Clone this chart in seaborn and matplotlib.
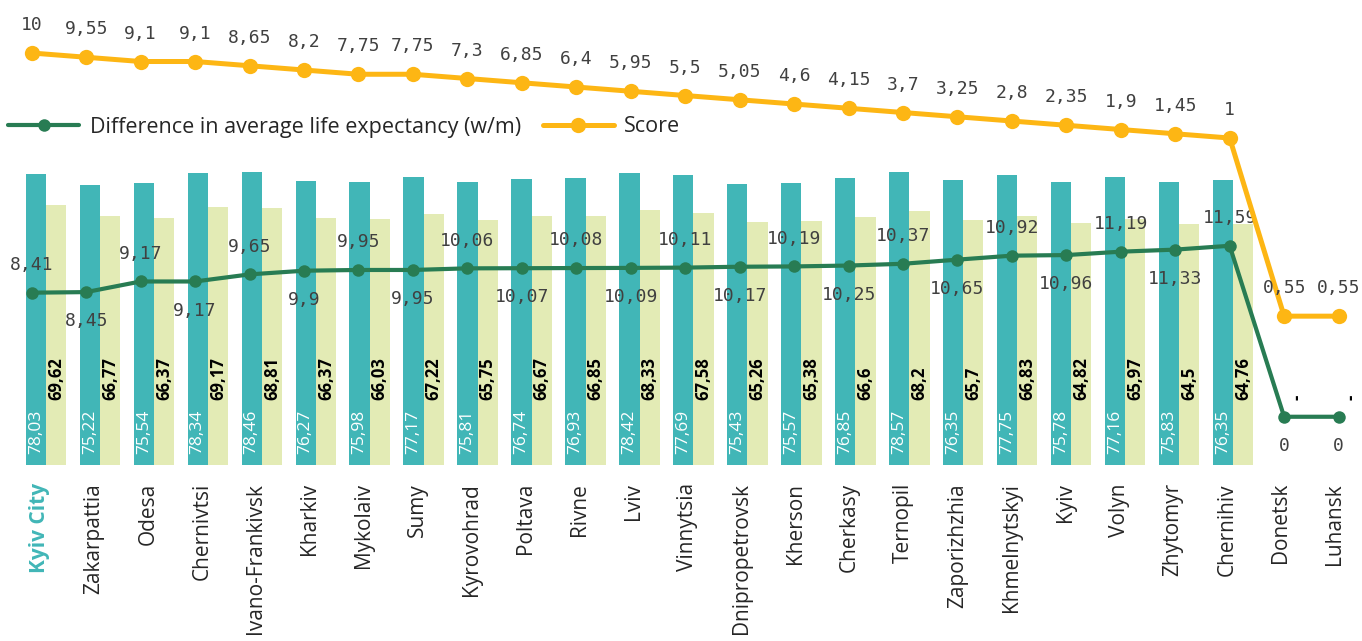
"""
Regional life expectancy (women / men), the gap between them and the score
- bars: average life expectancy by sex
- lines: difference (w/m) and score on their own scales
"""

import numpy as np
import pandas as pd
import matplotlib
matplotlib.use('Agg')
import matplotlib.pyplot as plt
import matplotlib.transforms as mtransforms
import seaborn as sns

sns.set_style('white')
plt.rcParams['font.family'] = ['Open Sans', 'DejaVu Sans']

# data
regions = ['Kyiv City', 'Zakarpattia', 'Odesa', 'Chernivtsi', 'Ivano-Frankivsk',
           'Kharkiv', 'Mykolaiv', 'Sumy', 'Kyrovohrad', 'Poltava', 'Rivne', 'Lviv',
           'Vinnytsia', 'Dnipropetrovsk', 'Kherson', 'Cherkasy', 'Ternopil',
           'Zaporizhzhia', 'Khmelnytskyi', 'Kyiv', 'Volyn', 'Zhytomyr',
           'Chernihiv', 'Donetsk', 'Luhansk']
women = [78.03, 75.22, 75.54, 78.34, 78.46, 76.27, 75.98, 77.17, 75.81, 76.74,
         76.93, 78.42, 77.69, 75.43, 75.57, 76.85, 78.57, 76.35, 77.75, 75.78,
         77.16, 75.83, 76.35, np.nan, np.nan]
men = [69.62, 66.77, 66.37, 69.17, 68.81, 66.37, 66.03, 67.22, 65.75, 66.67,
       66.85, 68.33, 67.58, 65.26, 65.38, 66.6, 68.2, 65.7, 66.83, 64.82,
       65.97, 64.5, 64.76, np.nan, np.nan]
diff = [8.41, 8.45, 9.17, 9.17, 9.65, 9.9, 9.95, 9.95, 10.06, 10.07, 10.08,
        10.09, 10.11, 10.17, 10.19, 10.25, 10.37, 10.65, 10.92, 10.96, 11.19,
        11.33, 11.59, 0, 0]
score = [10, 9.55, 9.1, 9.1, 8.65, 8.2, 7.75, 7.75, 7.3, 6.85, 6.4, 5.95, 5.5,
         5.05, 4.6, 4.15, 3.7, 3.25, 2.8, 2.35, 1.9, 1.45, 1, 0.55, 0.55]

TEAL = '#41B6B7'
PALE = '#E3EBB5'
GREEN = '#287C53'
ORANGE = '#FDB614'
GREY = '#404040'
MONO = 'DejaVu Sans Mono'

# the source chart's score axis is stretched below 1 (0,55 sits far lower)
STRETCH = 41.9


def score_fwd(v):
    v = np.asarray(v, dtype=float)
    return np.where(v >= 1, v, 1 - (1 - v) * STRETCH)


def score_inv(t):
    t = np.asarray(t, dtype=float)
    return np.where(t >= 1, t, 1 - (1 - t) / STRETCH)


def fmt(v):
    """1.5 -> '1,5', nan -> '-'"""
    if np.isnan(v):
        return '-'
    return f'{v:g}'.replace('.', ',')


n = len(regions)
bars = pd.DataFrame({'region': regions * 2,
                     'sex': ['women'] * n + ['men'] * n,
                     'value': women + men})
lines = pd.DataFrame({'pos': np.arange(n), 'diff': diff, 'score': score})

fig = plt.figure(figsize=(13.62, 6.41), dpi=100)
rect = [0, 176 / 641, 1, 465 / 641]

# bars
ax = fig.add_axes(rect)
bw = 0.75
sns.barplot(data=bars, x='region', y='value', hue='sex', order=regions,
            hue_order=['women', 'men'], palette=[TEAL, PALE], width=bw, gap=0,
            saturation=1, linewidth=0, legend=False, ax=ax)
ax.set_xlim(-0.852, 24.39)
ax.set_ylim(0, 124.7)
ax.set_yticks([])
ax.set_xlabel('')
ax.set_ylabel('')
sns.despine(ax=ax, left=True, bottom=True)
ax.tick_params(axis='x', length=0, pad=13, labelsize=15, rotation=90)
shift = mtransforms.ScaledTranslation(-6 / 100, 0, fig.dpi_scale_trans)
for lab in ax.get_xticklabels():
    lab.set_transform(lab.get_transform() + shift)
first = ax.get_xticklabels()[0]
first.set_color(TEAL)
first.set_fontweight('bold')

for i in range(n):
    # white labels of missing bars would be invisible anyway
    if not np.isnan(women[i]):
        ax.text(i - bw / 4, 3.0, fmt(women[i]), rotation=90, ha='center',
                va='bottom', color='white', fontsize=12.5)
    ax.text(i + bw / 4, 17.4, fmt(men[i]), rotation=90, ha='center',
            va='bottom', color='black', fontsize=12, fontweight='bold')

# difference line
ax_d = fig.add_axes(rect)
ax_d.patch.set_alpha(0)
sns.lineplot(data=lines, x='pos', y='diff', color=GREEN, lw=3, marker='o',
             markersize=9, markeredgewidth=0,
             label='Difference in average life expectancy (w/m)', ax=ax_d)
ax_d.set_xlim(-0.582, 24.43)
ax_d.set_ylim(-3.27, 28.25)
ax_d.axis('off')
for i, v in enumerate(diff):
    up = (i % 2 == 0) and v > 0
    ax_d.annotate(fmt(v), (i, v), xytext=(0, 20 if up else -21),
                  textcoords='offset points', ha='center', va='center',
                  color=GREY, fontsize=13, family=MONO)

# score line
ax_s = fig.add_axes(rect)
ax_s.patch.set_alpha(0)
ax_s.set_yscale('function', functions=(score_fwd, score_inv))
sns.lineplot(data=lines, x='pos', y='score', color=ORANGE, lw=3.6, marker='o',
             markersize=11, markeredgewidth=0, label='Score', ax=ax_s)
ax_s.set_xlim(-0.582, 24.43)
ax_s.set_ylim(0.174, 15.61)
ax_s.axis('off')
for i, v in enumerate(score):
    ax_s.annotate(fmt(v), (i, v), xytext=(0, 20), textcoords='offset points',
                  ha='center', va='center', color=GREY, fontsize=13, family=MONO)

# legend
handles, labels = [], []
for a in (ax_d, ax_s):
    h, l = a.get_legend_handles_labels()
    handles += h
    labels += l
    a.get_legend().remove()
fig.legend(handles, labels, loc='center left', bbox_to_anchor=(0.006, 1 - 127 / 641),
           ncol=2, frameon=False, fontsize=15.5, handlelength=3.3,
           handletextpad=0.5, columnspacing=1.0, borderaxespad=0, borderpad=0)

fig.savefig('out.png', dpi=100)
plt.close(fig)
